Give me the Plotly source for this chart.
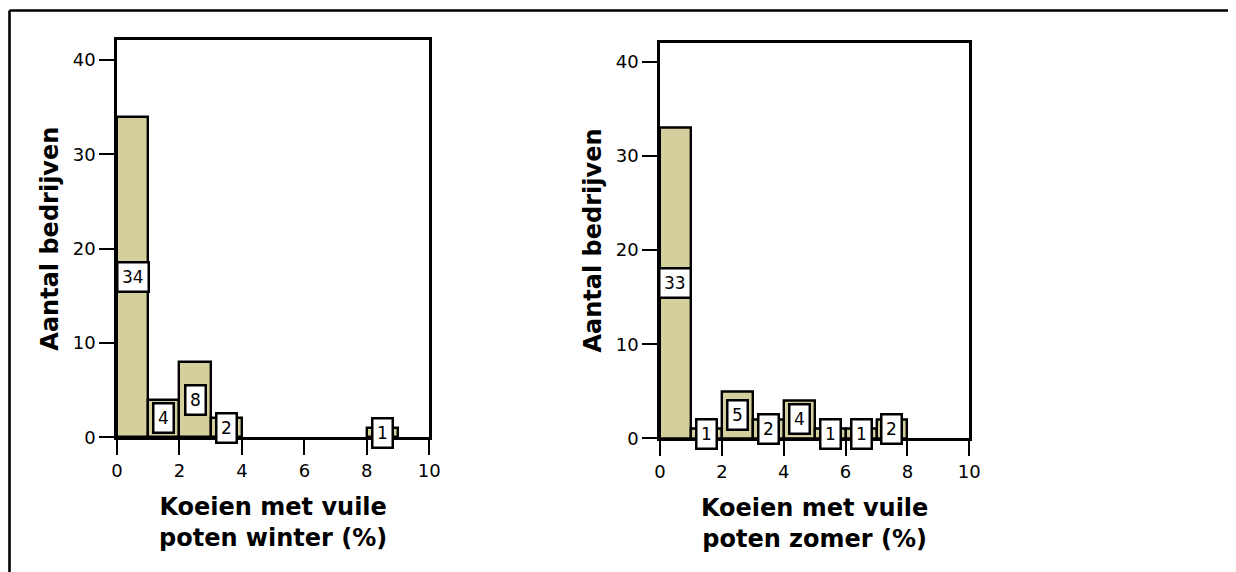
import plotly.graph_objects as go

# Histogram bins (width 1, %), counts
bin_starts = [0, 1, 2, 3, 4, 5, 6, 7, 8, 9]
winter_counts = [34, 4, 8, 2, 0, 0, 0, 0, 1, 0]
zomer_counts = [33, 1, 5, 2, 4, 1, 1, 2, 0, 0]

x_ticks = [0, 2, 4, 6, 8, 10]
y_ticks = [0, 10, 20, 30, 40]

x_title_winter = "Koeien met vuile<br>poten winter (%)"
x_title_zomer = "Koeien met vuile<br>poten zomer (%)"
y_title = "Aantal bedrijven"

BAR_COLOR = "#D4CF9C"
FONT = "DejaVu Sans"
OFF = 8  # page body margin
W, H = 1236 - OFF, 572 - OFF


def fx(px):
    return (px - OFF) / W


def fy(py):
    return 1 - (py - OFF) / H


fig = go.Figure()

panels = [
    (winter_counts, "x", "y"),
    (zomer_counts, "x2", "y2"),
]

for counts, xa, ya in panels:
    centers = [s + 0.5 for s, c in zip(bin_starts, counts) if c > 0]
    vals = [c for c in counts if c > 0]
    fig.add_trace(go.Bar(
        x=centers, y=vals, width=1.0,
        marker=dict(color=BAR_COLOR, line=dict(color="black", width=2.4)),
        xaxis=xa, yaxis=ya, showlegend=False, hoverinfo="skip",
    ))
    for cx, v in zip(centers, vals):
        fig.add_annotation(
            x=cx, y=v / 2, xref=xa, yref=ya, text=str(v), showarrow=False,
            font=dict(family=FONT, size=17, color="black"),
            bgcolor="white", bordercolor="black", borderwidth=2.5, borderpad=3.5,
        )

axis_common = dict(
    showline=True, linecolor="black", linewidth=2.6, mirror=True,
    ticks="outside", ticklen=15, tickwidth=2.4, tickcolor="black",
    showgrid=False, zeroline=False,
    tickfont=dict(family=FONT, size=18, color="black"),
)

title_font = dict(family=FONT, size=24, color="black", weight="bold")

fig.update_layout(
    width=W, height=H,
    margin=dict(l=0, r=0, t=0, b=0),
    paper_bgcolor="white", plot_bgcolor="white",
    template="none",
    bargap=0,
    xaxis=dict(domain=[fx(117), fx(429.3)], range=[0, 10], tickvals=x_ticks,
               title=dict(text=x_title_winter, font=title_font, standoff=19),
               anchor="y", **axis_common),
    yaxis=dict(domain=[fy(437.3), fy(40)], range=[0, 42.13], tickvals=y_ticks,
               title=dict(text=y_title, font=title_font, standoff=8),
               anchor="x", **axis_common),
    xaxis2=dict(domain=[fx(660), fx(969.3)], range=[0, 10], tickvals=x_ticks,
                title=dict(text=x_title_zomer, font=title_font, standoff=19),
                anchor="y2", **axis_common),
    yaxis2=dict(domain=[fy(438.3), fy(42.7)], range=[0, 42.05], tickvals=y_ticks,
                title=dict(text=y_title, font=title_font, standoff=8),
                anchor="x2", **axis_common),
)

# outer frame (top and left edges visible)
fig.add_shape(type="line", xref="paper", yref="paper",
              x0=fx(9.5), x1=1.0, y0=fy(10.5), y1=fy(10.5),
              line=dict(color="black", width=2.6))
fig.add_shape(type="line", xref="paper", yref="paper",
              x0=fx(9.5), x1=fx(9.5), y0=0, y1=fy(10.5),
              line=dict(color="black", width=2.6))

fig.write_html("out.html")
